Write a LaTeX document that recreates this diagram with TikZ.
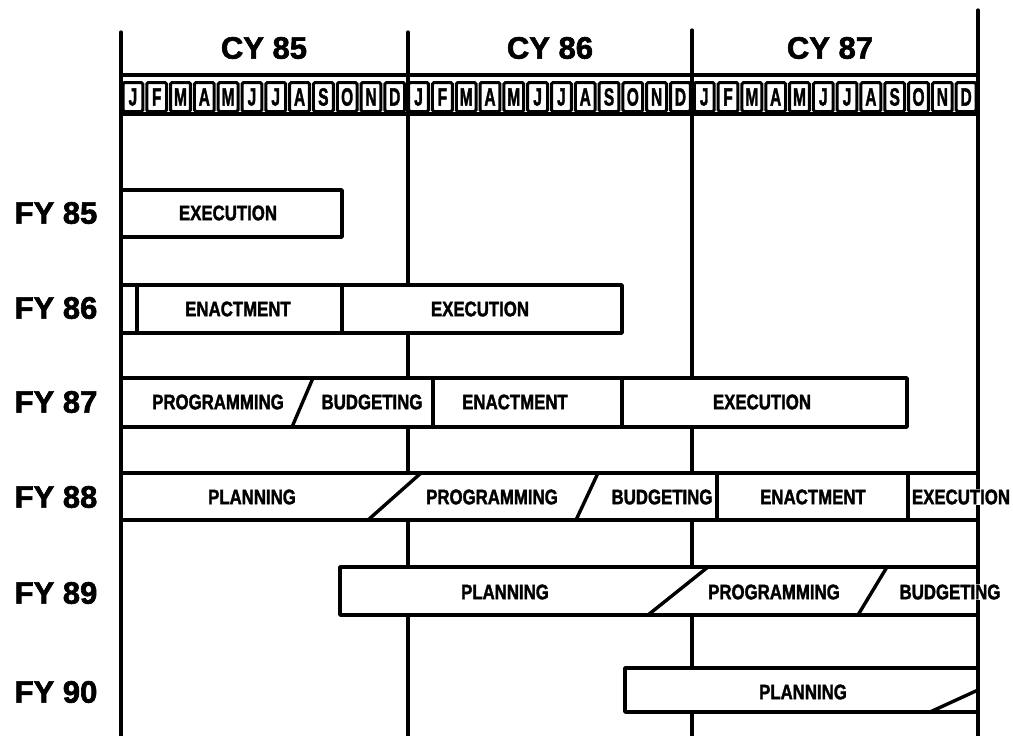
\documentclass[tikz,border=0pt]{standalone}
\usepackage{fontspec}
\setmainfont{Liberation Sans}[BoldFeatures={FakeBold=2}]
\usepackage{tikz}
\newcommand{\narrow}[1]{\scalebox{0.8}[1]{#1}}

\begin{document}
\begin{tikzpicture}[x=1pt,y=-1pt,
    grid/.style={line width=3.2pt, line cap=round},
    bar/.style={line width=3.4pt, fill=white, line join=round},
    divider/.style={line width=3.4pt},
    phase/.style={font=\fontsize{21}{21}\selectfont\bfseries, inner sep=1pt},
    head/.style={font=\fontsize{31}{31}\selectfont\bfseries},
    month/.style={draw, line width=3pt, rounded corners=1.5pt, minimum width=19.8pt,
      minimum height=29pt, inner sep=0pt, font=\fontsize{25}{25}\selectfont\bfseries}]
  \useasboundingbox (0,0) rectangle (1013,736);
    % calendar year lines
    \draw[grid] (121,32) -- (121,736);
    \draw[grid] (408,32) -- (408,736);
    \draw[grid] (692,30) -- (692,736);
    \draw[grid] (978,10) -- (978,736);
    \draw[grid] (121,75) -- (978,75);
    \node[head] (cy85) at (264,48) {CY 85};
    \node[head] (cy86) at (550,48) {CY 86};
    \node[head] (cy87) at (830,48) {CY 87};
    % months
    \foreach \yr in {0,1,2}
      \foreach \m [count=\i from 0] in {J,F,M,A,M,J,J,A,S,O,N,D}
        \node[month] (m\yr-\i) at ({121+(12*\yr+\i+0.5)*23.806},97) {\scalebox{0.62}[1]{\m}};
    \draw[divider] (121,114) -- (978,114);
    % FY 85
    \node[head] (fy85) at (56,213) {FY 85};
    \draw[bar] (121,190) rectangle (342,237);
    \node[phase] (ex85) at (228,213) {\narrow{EXECUTION}};
    % FY 86
    \node[head] (fy86) at (56,308) {FY 86};
    \draw[bar] (121,285) rectangle (622,333);
    \draw[divider] (137,285) -- (137,333);
    \draw[divider] (342,285) -- (342,333);
    \node[phase] (en86) at (238,309) {\narrow{ENACTMENT}};
    \node[phase] (ex86) at (480,309) {\narrow{EXECUTION}};
    % FY 87
    \node[head] (fy87) at (56,402) {FY 87};
    \draw[bar] (121,378) rectangle (907,427);
    \draw[divider] (313,378) -- (292,427);
    \draw[divider] (433,378) -- (433,427);
    \draw[divider] (622,378) -- (622,427);
    \node[phase] (pr87) at (218,402) {\narrow{PROGRAMMING}};
    \node[phase] (bu87) at (372,402) {\narrow{BUDGETING}};
    \node[phase] (en87) at (515,402) {\narrow{ENACTMENT}};
    \node[phase] (ex87) at (762,402) {\narrow{EXECUTION}};
    % FY 88
    \node[head] (fy88) at (56,497) {FY 88};
    \draw[bar] (121,473) rectangle (978,520);
    \draw[divider] (421,473) -- (368,520);
    \draw[divider] (598,473) -- (576,520);
    \draw[divider] (717,473) -- (717,520);
    \draw[divider] (908,473) -- (908,520);
    \node[phase] (pl88) at (252,497) {\narrow{PLANNING}};
    \node[phase] (pr88) at (492,497) {\narrow{PROGRAMMING}};
    \node[phase] (bu88) at (662,497) {\narrow{BUDGETING}};
    \node[phase] (en88) at (813,497) {\narrow{ENACTMENT}};
    \node[phase, fill=white] (ex88) at (961,497) {\narrow{EXECUTION}};
    % FY 89
    \node[head] (fy89) at (56,593) {FY 89};
    \draw[bar] (340,567) rectangle (978,615);
    \draw[divider] (708,567) -- (648,615);
    \draw[divider] (887,567) -- (858,615);
    \node[phase] (pl89) at (505,592) {\narrow{PLANNING}};
    \node[phase] (pr89) at (774,592) {\narrow{PROGRAMMING}};
    \node[phase, fill=white] (bu89) at (950,592) {\narrow{BUDGETING}};
    % FY 90
    \node[head] (fy90) at (56,692) {FY 90};
    \draw[bar] (625,668) rectangle (978,712);
    \draw[divider] (930,712) -- (978,690);
    \node[phase] (pl90) at (803,692) {\narrow{PLANNING}};
\end{tikzpicture}
\end{document}
